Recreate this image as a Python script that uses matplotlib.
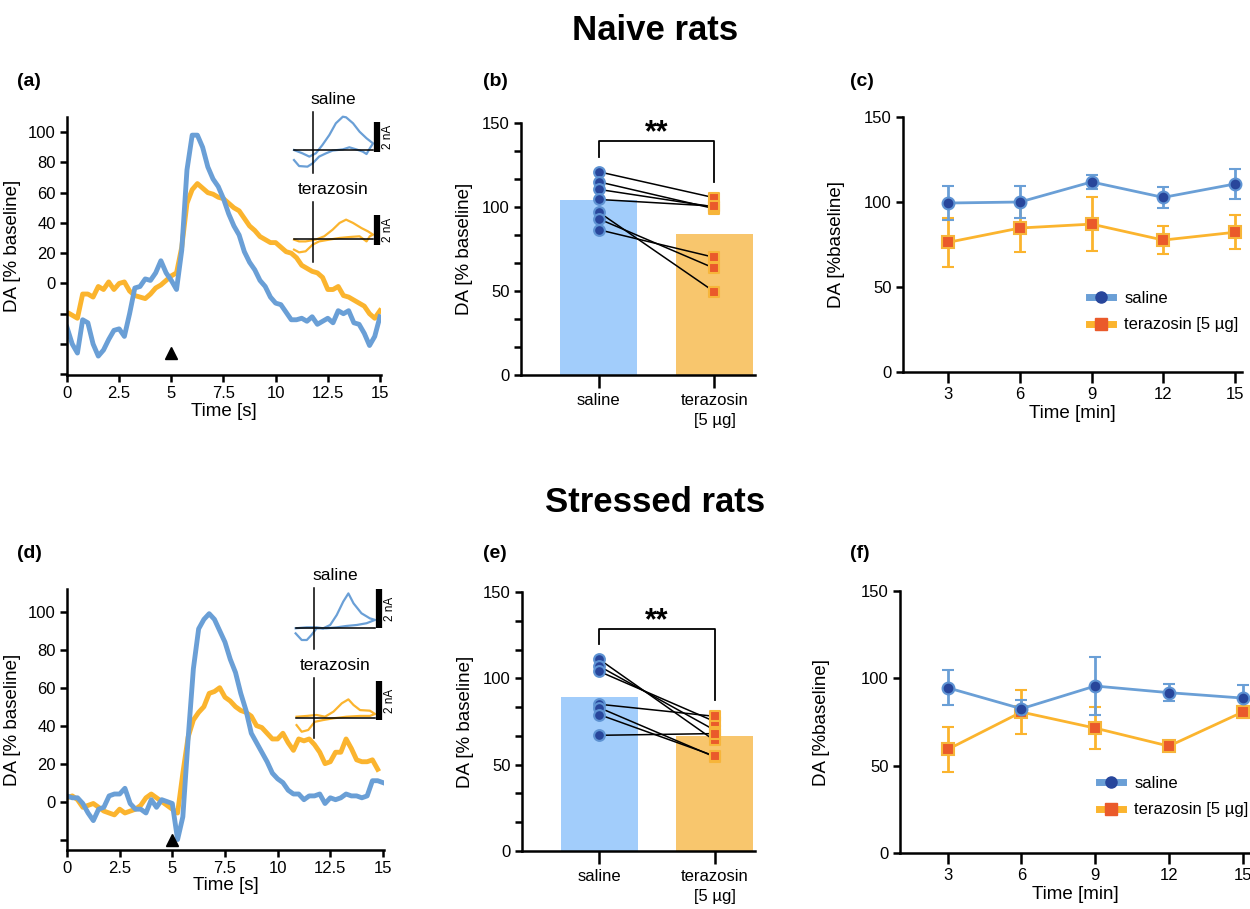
import matplotlib
matplotlib.use('Agg')
import matplotlib.pyplot as plt
import numpy as np
from matplotlib.lines import Line2D
from matplotlib.ticker import AutoMinorLocator

plt.rcParams['font.family'] = ['Liberation Sans', 'DejaVu Sans']

W, H = 1250, 909

# ---- data ----
# DA traces, % baseline, sampled every 0.25 s
trace_time = np.arange(0, 15.01, 0.25)
naive_saline = [-29, -40, -46, -24, -26, -40, -48, -44, -37, -31, -30, -35, -20,
                -3, -2, 3, 2, 7, 15, 7, 2, -4,
                22, 75, 98, 98, 90, 77, 69, 64, 56, 46, 38, 32, 21, 14, 9, 2, -2, -9, -13,
                -14, -19, -24, -24, -23, -25, -22, -27, -25, -23, -26, -18, -20, -18, -26,
                -27, -33, -41, -35, -22]
naive_terazosin = [-19, -21, -23, -7, -7, -9, -2, -4, 1, -4, 0, 1, -5,
                   -8, -9, -10, -7, -3, -1, 2, 5, 7,
                   24, 53, 62, 66, 63, 60, 59, 57, 56, 53, 50, 48, 43, 38, 35, 31, 29, 27, 27,
                   24, 21, 20, 17, 12, 10, 8, 7, 4, -4, -4, -2, -8, -9, -11, -13, -15, -20, -23, -18]
stressed_saline = [3, 2, 2, -1, -6, -10, -4, -3, 3, 4, 4, 7, -1,
                   -4, -4, -6, 1, -3, 1, 0, -1, -20,
                   -8, 33, 70, 91, 96, 99, 96, 90, 84, 75, 68, 57, 48, 36, 31, 26, 21, 15, 12,
                   10, 6, 4, 4, 1, 3, 3, 4, -1, 2, 1, 2, 4, 3, 3, 2, 3, 11, 11, 10]
stressed_terazosin = [2, 3, 1, -3, -2, -1, -3, -5, -6, -7, -4, -6, -5,
                      -4, -2, 2, 4, 2, 0, -2, -4, -6,
                      15, 34, 43, 47, 50, 57, 58, 60, 55, 53, 50, 48, 47, 45, 40, 39, 36, 33, 33,
                      36, 31, 27, 33, 32, 33, 30, 26, 20, 21, 26, 26, 33, 28, 22, 21, 21, 22, 17]
stim_time = 5

# cyclic voltammograms (V, nA)
cv_a_sal_v = [-0.40, -0.29, -0.11, 0.00, 0.14, 0.29, 0.43, 0.65, 0.79, 0.94, 1.08, 1.16, 1.23, 1.30,
              1.16, 1.01, 0.87, 0.72, 0.65, 0.50, 0.36, 0.21, 0.07, -0.07, -0.22, -0.40]
cv_a_sal_i = [-0.67, -1.07, -1.11, -0.89, -0.44, -0.22, -0.04, 0.04, 0.18, 0.04, -0.11, -0.27, 0.11, 0.44,
              0.78, 1.22, 1.78, 2.18, 2.22, 1.78, 1.00, 0.33, -0.22, -0.44, -0.22, 0.00]
cv_a_ter_v = [-0.40, -0.29, -0.15, 0.00, 0.14, 0.36, 0.58, 0.79, 1.01, 1.16, 1.23, 1.30,
              1.19, 1.05, 0.87, 0.72, 0.58, 0.43, 0.25, 0.07, -0.15, -0.29, -0.40]
cv_a_ter_i = [-0.71, -0.89, -0.82, -0.38, -0.16, -0.04, 0.07, 0.13, 0.18, -0.16, 0.18, 0.29,
              0.51, 0.73, 1.07, 1.29, 1.07, 0.62, 0.18, -0.04, -0.16, -0.16, -0.04]
cv_d_sal_v = [-0.40, -0.27, -0.16, -0.06, 0.05, 0.26, 0.48, 0.69, 0.91, 1.12, 1.30,
              1.19, 1.01, 0.84, 0.73, 0.62, 0.48, 0.34, 0.19, 0.05, -0.16, -0.40]
cv_d_sal_i = [-0.26, -0.60, -0.60, -0.34, 0.00, 0.00, 0.05, 0.12, 0.17, 0.26, 0.43,
              0.51, 0.77, 1.28, 1.79, 1.37, 0.68, 0.17, 0.00, 0.05, 0.05, 0.00]
cv_d_ter_v = [-0.38, -0.27, -0.13, 0.01, 0.19, 0.41, 0.69, 0.98, 1.19, 1.30,
              1.19, 0.98, 0.84, 0.73, 0.59, 0.41, 0.23, 0.05, -0.16, -0.38]
cv_d_ter_i = [-0.38, -0.72, -0.63, -0.21, -0.12, -0.03, 0.05, 0.09, 0.09, 0.19,
              0.36, 0.39, 0.65, 0.94, 0.74, 0.31, 0.05, 0.14, 0.09, 0.05]

# paired data (b), (e)
groups = ['saline', 'terazosin\n[5 µg]']
naive_bar = [104, 84]
naive_pair_saline = [121, 115, 110.5, 104.5, 97, 93, 86.5]
naive_pair_terazosin = [105.5, 99, 100, 100.5, 49.5, 63.5, 70]
stressed_bar = [89.4, 66.5]
stressed_pair_saline = [111, 107, 104, 85, 83, 79, 67]
stressed_pair_terazosin = [64, 70, 75, 78, 54.5, 55, 68]

# time course (c), (f)
minutes = [3, 6, 9, 12, 15]
naive_sal_mean = [99.4, 100, 111.8, 102.7, 110.6]
naive_sal_err = [10, 9.7, 4.2, 6.4, 9]
naive_ter_mean = [76.3, 84.7, 87, 77.6, 82.2]
naive_ter_err = [14.5, 14, 16, 8, 10]
stressed_sal_mean = [94.6, 82.6, 95.6, 91.8, 88.7]
stressed_sal_err = [10, 5, 16.5, 5, 7.5]
stressed_ter_mean = [59.3, 80.7, 71.5, 61.2, 80.7]
stressed_ter_err = [13, 12.7, 12, 2, 3.5]

# ---- colours ----
blue = '#6a9fd6'
orange = '#fbb42e'
bar_blue = '#a2cdfb'
bar_orange = '#f8c66d'
dark_blue = '#28469b'
edge_blue = '#5e93d3'
red_sq = '#ea5a2b'
edge_orange = '#f7b53a'

TICK = 12
LABEL = 13.5

fig = plt.figure(figsize=(12.5, 9.09), dpi=100)


def px_axes(left, top, right, bottom):
    return fig.add_axes([left / W, 1 - bottom / H, (right - left) / W, (bottom - top) / H])


def style(ax):
    for s in ['top', 'right']:
        ax.spines[s].set_visible(False)
    for s in ['left', 'bottom']:
        ax.spines[s].set_linewidth(1.8)
    ax.tick_params(width=1.8, length=5, labelsize=TICK, pad=3)


def trace_panel(ax, sal, ter, ylim, yticks, arrow_y):
    style(ax)
    ax.plot(trace_time[:len(ter)], ter, color=orange, lw=3.5, solid_joinstyle='round')
    ax.plot(trace_time[:len(sal)], sal, color=blue, lw=3.5, solid_joinstyle='round')
    ax.plot(stim_time, arrow_y, marker='^', color='k', ms=9, ls='none')
    ax.set_xlim(0, 15.05)
    ax.set_ylim(*ylim)
    ax.set_xticks([0, 2.5, 5, 7.5, 10, 12.5, 15])
    ax.set_xticklabels(['0', '2.5', '5', '7.5', '10', '12.5', '15'])
    ax.set_yticks(yticks)
    ax.set_yticklabels(['' if v < 0 else str(v) for v in yticks])
    ax.set_xlabel('Time [s]', fontsize=LABEL, labelpad=1)
    ax.set_ylabel('DA [% baseline]', fontsize=LABEL)
    ax.yaxis.set_label_coords(-0.145, 0.5)


def cv_inset(x0, y0, px_v, px_i, v, i, color, vline, bar_lo, label):
    ax = px_axes(x0 - 35, y0 - 55, x0 + 95, y0 + 40)
    ax.set_xlim(-35 / px_v, 95 / px_v)
    ax.set_ylim(-40 / px_i, 55 / px_i)
    ax.axis('off')
    ax.plot(v, i, color=color, lw=1.6)
    ax.plot([-0.4, 1.3], [0, 0], color='k', lw=1.1)
    ax.plot([0, 0], vline, color='k', lw=1.1)
    bar_x = 1.39
    ax.plot([bar_x, bar_x], [bar_lo, bar_lo + 2], color='k', lw=4.5, solid_capstyle='butt')
    ax.text(bar_x + 5 / px_v, bar_lo + 1, '2 nA', rotation=90, ha='left', va='center', fontsize=8.5)
    ax.text(0.45, vline[1] + 5 / px_i, label, ha='center', va='bottom', fontsize=12.5)


def bar_panel(ax, bars, sal, ter, bracket):
    style(ax)
    ax.bar([0, 1], bars, width=0.67, color=[bar_blue, bar_orange], zorder=1)
    for a, b in zip(sal, ter):
        ax.plot([0, 1], [a, b], color='k', lw=1.1, zorder=2)
    ax.scatter([0] * len(sal), sal, marker='o', s=60, facecolor=dark_blue, edgecolor=edge_blue,
               linewidth=1.5, zorder=3)
    ax.scatter([1] * len(ter), ter, marker='s', s=60, facecolor=red_sq, edgecolor=edge_orange,
               linewidth=1.5, zorder=3)
    left_leg, top, right_leg = bracket
    ax.plot([0, 0, 1, 1], [left_leg, top, top, right_leg], color='k', lw=1.3, clip_on=False)
    ax.text(0.5, top - 4, '**', ha='center', va='bottom', fontsize=22, fontweight='bold')
    ax.set_xlim(-0.67, 1.35)
    ax.set_ylim(0, 150)
    ax.set_yticks([0, 50, 100, 150])
    ax.yaxis.set_minor_locator(AutoMinorLocator(3))
    ax.tick_params(which='minor', width=1.8, length=5)
    ax.set_xticks([0, 1])
    ax.set_xticklabels(groups, fontsize=TICK)
    for lbl in ax.get_xticklabels():
        lbl.set_linespacing(1.45)
    ax.tick_params(axis='x', length=9, pad=4)
    ax.set_ylabel('DA [% baseline]', fontsize=LABEL)
    ax.yaxis.set_label_coords(-0.205, 0.5)


def time_panel(ax, sm, se, tm, te, leg_xy, ylab_x):
    style(ax)
    ax.errorbar(minutes, tm, yerr=te, color=orange, lw=2, marker='s', ms=8.5, mfc=red_sq,
                mec=edge_orange, mew=1.5, capsize=4, elinewidth=2, capthick=2, clip_on=False)
    ax.errorbar(minutes, sm, yerr=se, color=blue, lw=2, marker='o', ms=8.5, mfc=dark_blue,
                mec=edge_blue, mew=1.5, capsize=4, elinewidth=2, capthick=2, clip_on=False)
    ax.set_ylim(0, 150)
    ax.set_yticks([0, 50, 100, 150])
    ax.set_xticks(minutes)
    ax.tick_params(axis='x', length=8)
    ax.set_xlabel('Time [min]', fontsize=LABEL, labelpad=2)
    ax.set_ylabel('DA [%baseline]', fontsize=LABEL)
    ax.yaxis.set_label_coords(ylab_x, 0.5)
    handles = [Line2D([], [], color=blue, lw=5, marker='o', ms=8, mfc=dark_blue, mec=dark_blue),
               Line2D([], [], color=orange, lw=5, marker='s', ms=8, mfc=red_sq, mec=red_sq)]
    ax.legend(handles, ['saline', 'terazosin [5 µg]'], loc='upper left', bbox_to_anchor=leg_xy,
              frameon=False, fontsize=12, handlelength=1.4, handletextpad=0.7, labelspacing=0.7,
              borderaxespad=0)


# ---- titles and panel letters ----
fig.text(655 / W, 1 - 30 / H, 'Naive rats', ha='center', va='center', fontsize=25,
         fontweight='bold')
fig.text(655 / W, 1 - 503 / H, 'Stressed rats', ha='center', va='center', fontsize=25,
         fontweight='bold')
for letter, (x, y) in zip('abcdef', [(17, 81), (483, 81), (850, 81),
                                     (17, 553), (483, 553), (850, 553)]):
    fig.text(x / W, 1 - y / H, '(%s)' % letter, ha='left', va='center', fontsize=14,
             fontweight='bold')

# ---- naive ----
ax_a = px_axes(67, 117, 381, 375)
trace_panel(ax_a, naive_saline, naive_terazosin, (-60.5, 110), list(range(-60, 101, 20)), -46)
cv_inset(312.6, 150, 46.5, 15, cv_a_sal_v, cv_a_sal_i, blue, (-1.53, 2.53), -0.13, 'saline')
cv_inset(312.6, 239, 46.5, 15, cv_a_ter_v, cv_a_ter_i, orange, (-1.53, 2.47), -0.4, 'terazosin')

ax_b = px_axes(521, 123, 755, 375)
bar_panel(ax_b, naive_bar, naive_pair_saline, naive_pair_terazosin, (129.5, 139, 115))

ax_c = px_axes(903, 117, 1242, 372)
ax_c.set_xlim(1.1, 15.3)
time_panel(ax_c, naive_sal_mean, naive_sal_err, naive_ter_mean, naive_ter_err, (0.53, 0.345), -0.17)

# ---- stressed ----
ax_d = px_axes(67, 589, 384, 850)
trace_panel(ax_d, stressed_saline, stressed_terazosin, (-25.5, 112), list(range(-20, 101, 20)), -20)
cv_inset(314.3, 628.3, 46.7, 19.5, cv_d_sal_v, cv_d_sal_i, blue, (-1.06, 2.07), 0.0, 'saline')
cv_inset(314.3, 717.7, 46.7, 19.5, cv_d_ter_v, cv_d_ter_i, orange, (-1.04, 2.03), -0.12, 'terazosin')

ax_e = px_axes(522, 592, 755, 851)
bar_panel(ax_e, stressed_bar, stressed_pair_saline, stressed_pair_terazosin, (120, 128.6, 87.5))

ax_f = px_axes(900, 591, 1250, 853)
ax_f.set_xlim(1.06, 15.3)
time_panel(ax_f, stressed_sal_mean, stressed_sal_err, stressed_ter_mean, stressed_ter_err,
           (0.55, 0.32), -0.2)

fig.savefig('out.png', dpi=100)
